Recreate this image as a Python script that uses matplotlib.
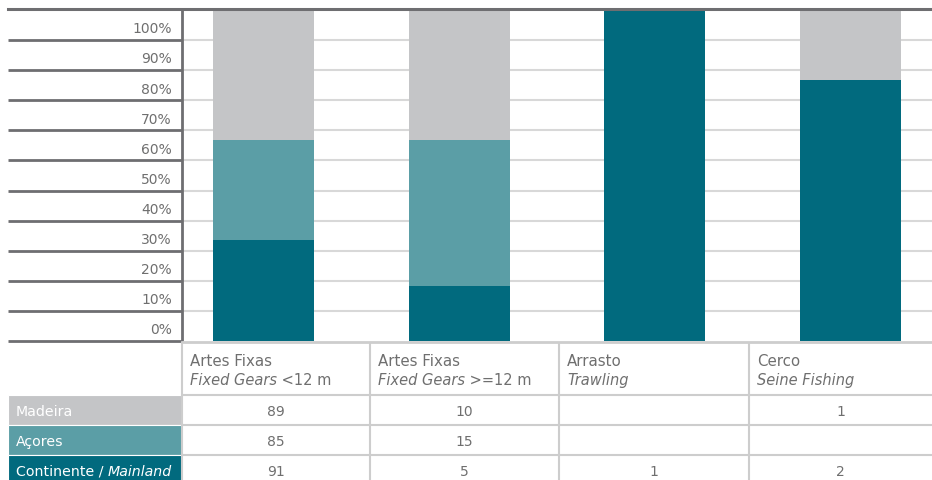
import matplotlib
matplotlib.use("Agg")
import matplotlib.pyplot as plt
import numpy as np
from matplotlib.patches import Rectangle
from matplotlib.lines import Line2D

# ── data ────────────────────────────────────────────────────────────────
categories = ["Artes Fixas|Fixed Gears| <12 m", "Artes Fixas|Fixed Gears| >=12 m",
              "Arrasto|Trawling|", "Cerco|Seine Fishing|"]
series = ["Continente", "Açores", "Madeira"]
# bar segment shares (%) as drawn
pct_continente = [30.6, 16.7, 100.0, 78.9]
pct_acores = [30.1, 44.0, 0.0, 0.0]
pct_madeira = [39.3, 39.3, 0.0, 21.1]
# table counts
tbl_madeira = ["89", "10", "", "1"]
tbl_acores = ["85", "15", "", ""]
tbl_continente = ["91", "5", "1", "2"]
ytick_labels = [f"{v}%" for v in range(0, 101, 10)]

DARK, MID, LIGHT = "#016a7e", "#5b9ea6", "#c4c5c7"
LINE_DARK, GRID, TBL, TXT = "#6e6e71", "#d8d8d8", "#cdcdcd", "#6f6f6f"
plt.rcParams["font.family"] = "DejaVu Sans"

W, H = 932, 481
fig = plt.figure(figsize=(W / 100, H / 100), dpi=100)


def px_axes(x0, y0, x1, y1):
    a = fig.add_axes([x0 / W, 1 - y1 / H, (x1 - x0) / W, (y1 - y0) / H])
    a.set_axis_off()
    return a


# ── bar chart ───────────────────────────────────────────────────────────
ax = px_axes(182, 11, 932, 342)
ax.set_xlim(-0.416, 3.416)
ax.set_ylim(0, 100)
bands = np.linspace(0, 100, 12)
ax.hlines(bands[1:-1], -0.416, 3.416, color=GRID, lw=1.5, zorder=0)
x = np.arange(len(categories))
bottom = np.zeros(len(categories))
for vals, col in [(pct_continente, DARK), (pct_acores, MID), (pct_madeira, LIGHT)]:
    ax.bar(x, vals, width=0.516, bottom=bottom, color=col, zorder=2)
    bottom += np.array(vals)

# left label column
axl = px_axes(8, 11, 182, 342)
axl.set_xlim(0, 1)
axl.set_ylim(0, 100)
axl.hlines(bands[:-1], 0, 1, color=LINE_DARK, lw=2, clip_on=False)
axl.vlines(1, 0, 100, color=LINE_DARK, lw=2, clip_on=False)
for k, lab in enumerate(ytick_labels):
    axl.text((172 - 8) / 174, (k + 0.5) * 100 / 11 - 1.0, lab, ha="right", va="center",
             color=TXT, fontsize=10)

# top border
fig.add_artist(Line2D([8 / W, 1], [1 - 10 / H] * 2, color=LINE_DARK, lw=2.2))
# bottom border under plot area
fig.add_artist(Line2D([182 / W, 1], [1 - 342.5 / H] * 2, color=TBL, lw=2))

# ── table ───────────────────────────────────────────────────────────────
axt = px_axes(8, 342, 932, 481)
axt.set_xlim(8, 932)
axt.set_ylim(481, 342)
col_edges = [182, 370, 559, 749, 932]
row_edges = [343, 396, 426, 456.5, 487]

renderer = fig.canvas.get_renderer()


def pieces(x0, y, parts, **kw):
    # draw consecutive text pieces, each (text, style)
    for s, style in parts:
        t = axt.text(x0, y, s, style=style, va="baseline", ha="left", **kw)
        bb = t.get_window_extent(renderer=renderer)
        x0 += bb.width


for j, cat in enumerate(categories):
    top, it, rest = cat.split("|")
    cx = col_edges[j] + 8
    pieces(cx, 366.5, [(top, "normal")], color=TXT, fontsize=10.8)
    pieces(cx, 385, [(it, "italic"), (rest, "normal")], color=TXT, fontsize=10.5)

row_labels = [[("Madeira", "normal")], [("Açores", "normal")],
              [("Continente / ", "normal"), ("Mainland", "italic")]]
row_vals = [tbl_madeira, tbl_acores, tbl_continente]
row_cols = [LIGHT, MID, DARK]
baselines = [416, 446, 476]
for i in range(3):
    y0, y1 = row_edges[i + 1], row_edges[i + 2]
    axt.add_patch(Rectangle((8, y0), 182 - 8, y1 - y0, facecolor=row_cols[i],
                            edgecolor="white", lw=0.8))
    pieces(16, baselines[i], row_labels[i], color="white", fontsize=10.2)
    for j, v in enumerate(row_vals[i]):
        axt.text((col_edges[j] + col_edges[j + 1]) / 2, baselines[i], v, ha="center",
                 va="baseline", color=TXT, fontsize=10)

# table grid lines
for yy in row_edges[1:4]:
    axt.hlines(yy, 182, 932, color=TBL, lw=1.5)
for xx in col_edges[:-1]:
    axt.vlines(xx, 343, 481, color=TBL, lw=1.5)

fig.savefig("out.png", dpi=100)
